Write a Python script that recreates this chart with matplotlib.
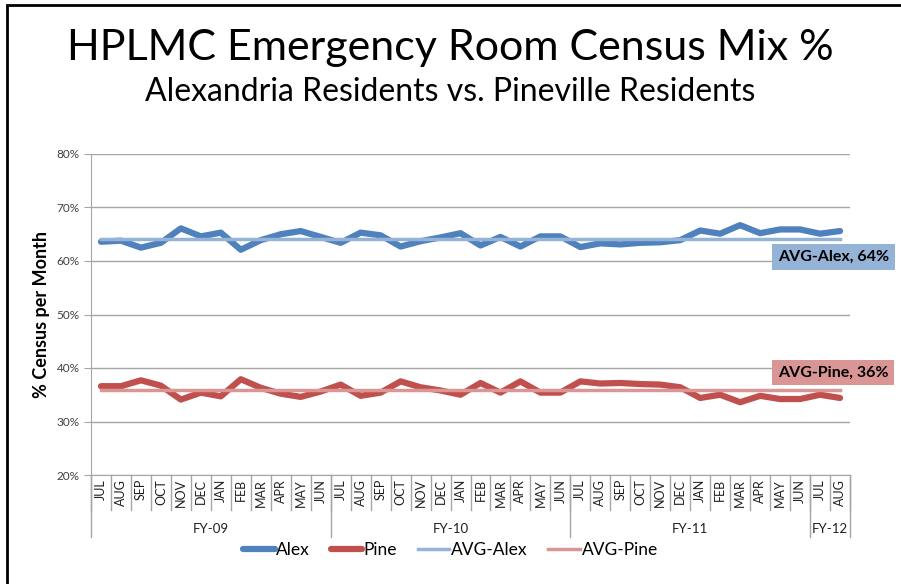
import numpy as np
import matplotlib.pyplot as plt
from matplotlib.patches import Rectangle
from matplotlib.transforms import blended_transform_factory

plt.rcParams['font.family'] = ['Lato', 'DejaVu Sans']

# data
months = ["JUL", "AUG", "SEP", "OCT", "NOV", "DEC", "JAN", "FEB", "MAR", "APR", "MAY", "JUN"] * 3 + ["JUL", "AUG"]
years = ["FY-09", "FY-10", "FY-11", "FY-12"]
year_sizes = [12, 12, 12, 2]

alex = [63.6, 63.8, 62.5, 63.4, 66.1, 64.6, 65.3, 62.1, 63.9, 65.0, 65.6, 64.5,
        63.4, 65.3, 64.8, 62.7, 63.7, 64.4, 65.2, 62.9, 64.5, 62.7, 64.6, 64.6,
        62.6, 63.3, 63.1, 63.4, 63.5, 63.9, 65.7, 65.1, 66.7, 65.2, 65.9, 65.9,
        65.1, 65.6]
pine = [36.6, 36.6, 37.7, 36.7, 34.1, 35.4, 34.7, 37.9, 36.3, 35.2, 34.6, 35.6,
        36.9, 34.8, 35.4, 37.5, 36.4, 35.8, 35.0, 37.2, 35.4, 37.5, 35.4, 35.4,
        37.5, 37.1, 37.2, 37.0, 36.9, 36.4, 34.4, 35.0, 33.6, 34.8, 34.2, 34.2,
        35.0, 34.4]
avg_alex = 64.2
avg_pine = 35.8

c_alex = "#4F81BD"
c_pine = "#C0504D"
c_avg_alex = "#95B3D7"
c_avg_pine = "#D99694"
grid_c = "#A6A6A6"

fig = plt.figure(figsize=(9.01, 5.84), dpi=100)
ax = fig.add_axes([91 / 901, 1 - 475 / 584, 759 / 901, 321 / 584])

x = np.arange(len(months))
ax.plot(x, alex, color=c_alex, lw=4.5, solid_capstyle='round', solid_joinstyle='round', label="Alex", zorder=3)
ax.plot(x, pine, color=c_pine, lw=4.5, solid_capstyle='round', solid_joinstyle='round', label="Pine", zorder=3)
ax.plot(x, [avg_alex] * len(x), color=c_avg_alex, lw=2.5, label="AVG-Alex", zorder=4)
ax.plot(x, [avg_pine] * len(x), color=c_avg_pine, lw=2.5, label="AVG-Pine", zorder=4)

ax.set_xlim(-0.5, len(months) - 0.5)
ax.set_ylim(20, 80)
ax.set_yticks(np.arange(20, 81, 10))
ax.set_yticklabels([f"{v}%" for v in range(20, 81, 10)], fontsize=8.5, color="#404040")
ax.yaxis.grid(True, color=grid_c, lw=1)
ax.set_axisbelow(True)
ax.tick_params(axis='y', length=5, color=grid_c, pad=3)
ax.set_xticks([])
for s in ["top", "right"]:
    ax.spines[s].set_visible(False)
for s in ["left", "bottom"]:
    ax.spines[s].set_color(grid_c)
ax.set_ylabel("% Census per Month", fontsize=13, fontweight='bold', labelpad=5)

# category axis
tr = blended_transform_factory(ax.transData, ax.transAxes)
for i, m in enumerate(months):
    ax.text(i, -0.012, m, rotation=90, ha='center', va='top', fontsize=9, color="#202020",
            transform=tr)
for b in np.arange(len(months) + 1) - 0.5:
    ax.plot([b, b], [0, -0.109], color=grid_c, lw=1, transform=tr, clip_on=False)
start = -0.5
for y, n in zip(years, year_sizes):
    ax.plot([start, start], [0, -0.193], color=grid_c, lw=1, transform=tr, clip_on=False)
    ax.text(start + n / 2, -0.168, y, ha='center', va='center', fontsize=9.5, color="#202020",
            transform=tr)
    start += n
ax.plot([start, start], [0, -0.193], color=grid_c, lw=1, transform=tr, clip_on=False)

# average labels
ax.text(0.905, 0.679, "AVG-Alex, 64%", transform=ax.transAxes, ha='left', va='center',
        fontsize=11.5, fontweight='bold',
        bbox=dict(boxstyle='square,pad=0.35', fc=c_avg_alex, ec='none'), zorder=5)
ax.text(0.905, 0.319, "AVG-Pine, 36%", transform=ax.transAxes, ha='left', va='center',
        fontsize=11.5, fontweight='bold',
        bbox=dict(boxstyle='square,pad=0.35', fc=c_avg_pine, ec='none'), zorder=5)

fig.text(0.5, 1 - 48 / 584, "HPLMC Emergency Room Census Mix %", ha='center', va='center', fontsize=31)
fig.text(0.5, 1 - 92 / 584, "Alexandria Residents vs. Pineville Residents", ha='center', va='center', fontsize=23)

fig.legend(loc='center', bbox_to_anchor=(0.5, 1 - 550 / 584), ncol=4, frameon=False,
           fontsize=12.5, handlelength=1.8, handletextpad=0.1, columnspacing=1.2)

# outer border
fig.add_artist(Rectangle((7 / 901, -0.1), 1.1, 1 - 5 / 584 + 0.1, transform=fig.transFigure,
                         fill=False, ec='black', lw=2))

fig.savefig("out.png", dpi=100)
